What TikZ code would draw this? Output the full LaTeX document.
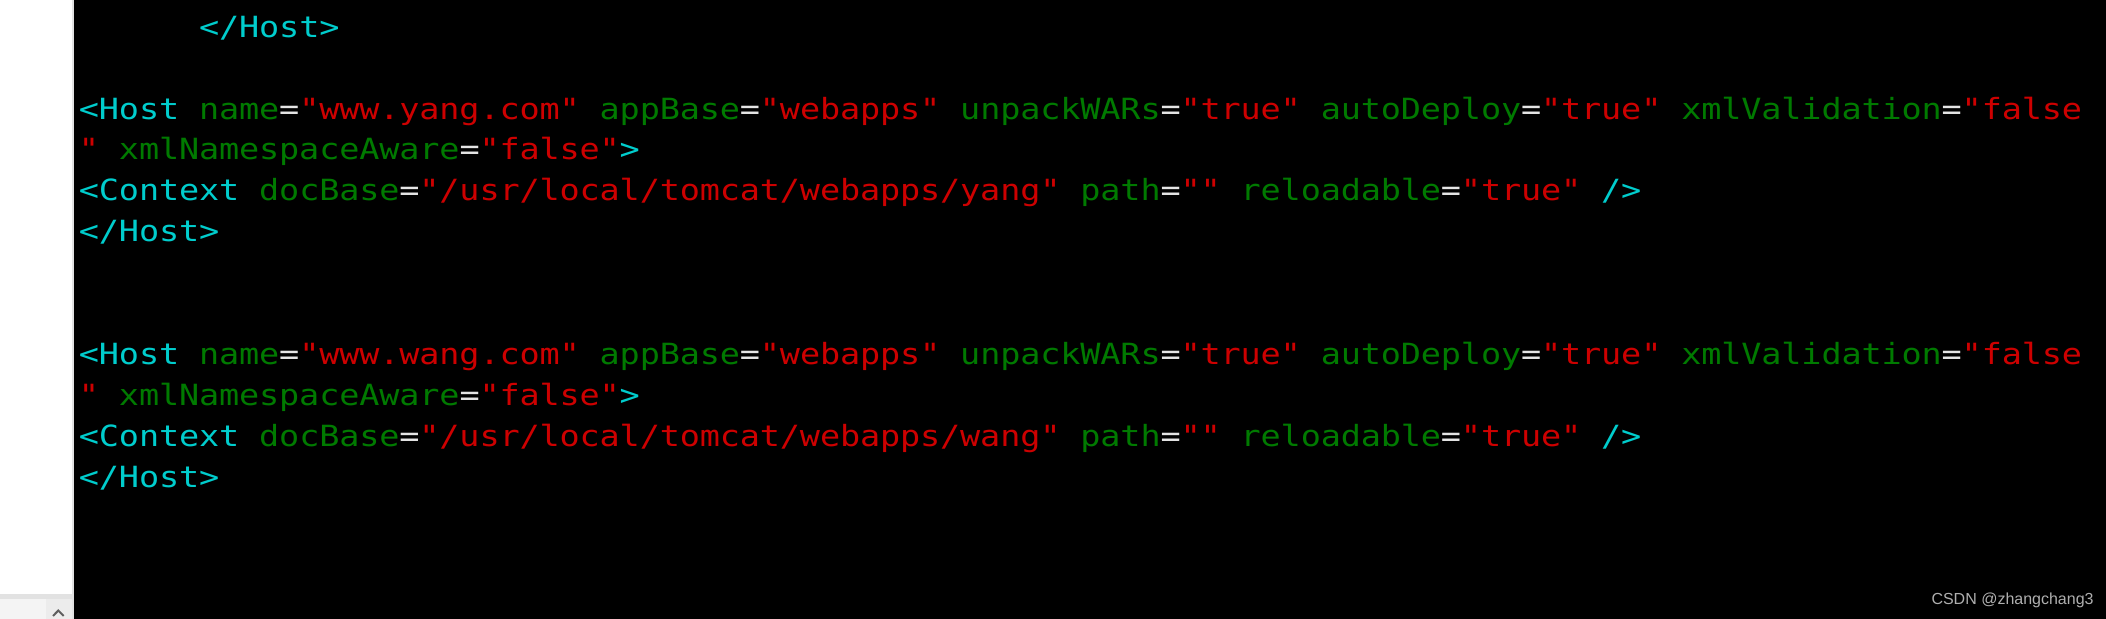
\documentclass[tikz,border=0pt]{standalone}
\usepackage{fontspec}
\setmonofont[FakeStretch=1.147]{DejaVu Sans Mono}
\setsansfont{Liberation Sans}
\usepackage{xcolor}
\usetikzlibrary{positioning}

\definecolor{tagc}{RGB}{0,205,205}
\definecolor{attc}{RGB}{0,122,0}
\definecolor{valc}{RGB}{205,0,0}
\definecolor{eqc}{RGB}{229,229,229}
\definecolor{wmgray}{RGB}{175,175,175}
\definecolor{edgegray}{RGB}{226,226,226}
\definecolor{barlight}{RGB}{244,244,244}
\definecolor{bardark}{RGB}{236,236,236}
\definecolor{chevgray}{RGB}{95,95,95}

% one character per terminal cell
\newlength{\cw}\setlength{\cw}{10.015pt}
\def\cells#1{\edef\celltmp{#1}\expandafter\cellloop\celltmp\relax}
\def\cellloop#1{\ifx#1\relax\else\makebox[\cw]{#1}\expandafter\cellloop\fi}
\newcommand{\sk}[1][1]{\makebox[#1\cw]{}}
\newcommand{\tg}[1]{\textcolor{tagc}{\cells{#1}}}
\newcommand{\at}[1]{\textcolor{attc}{\cells{#1}}}
\newcommand{\vl}[1]{\textcolor{valc}{\cells{#1}}}
\newcommand{\eq}{\textcolor{eqc}{\cells{=}}}

\begin{document}
\begin{tikzpicture}[x=0.5pt,y=0.5pt,
	code/.style={font=\ttfamily\fontsize{14.6}{18}\selectfont,inner sep=0pt,anchor=base west}]
	\useasboundingbox (0,0) rectangle (2106,619);
	% side panel
	\fill[white] (0,0) rectangle (71.7,619);
	\fill[barlight] (0,0) rectangle (46,20);
	\fill[bardark] (46,0) rectangle (71.7,20);
	\fill[edgegray] (0,20) rectangle (71.7,24.7);
	\fill[edgegray] (71.7,0) rectangle (74,619);
	\draw[chevgray,line width=1pt] (53,3) -- (58.3,8.5) -- (63.7,3);
	% terminal
	\fill[black] (74,0) rectangle (2106,619);
	\node[code] (close0) at (78.6,581.7) {\sk[6]\tg{</Host>}};
	\foreach \site/\row in {yang/2,wang/8}{
		\node[code] (host\row) at (78.6,{581.7-40.9*\row}) {\tg{<Host}\sk\at{name}\eq\vl{"www.\site.com"}\sk\at{appBase}\eq\vl{"webapps"}\sk\at{unpackWARs}\eq\vl{"true"}\sk\at{autoDeploy}\eq\vl{"true"}\sk\at{xmlValidation}\eq\vl{"false}};
		\node[code] (wrap\row) at (78.6,{581.7-40.9*(\row+1)}) {\vl{"}\sk\at{xmlNamespaceAware}\eq\vl{"false"}\tg{>}};
		\node[code] (ctx\row) at (78.6,{581.7-40.9*(\row+2)}) {\tg{<Context}\sk\at{docBase}\eq\vl{"/usr/local/tomcat/webapps/\site"}\sk\at{path}\eq\vl{""}\sk\at{reloadable}\eq\vl{"true"}\sk\tg{/>}};
		\node[code] (end\row) at (78.6,{581.7-40.9*(\row+3)}) {\tg{</Host>}};
	}
	\node[font=\sffamily\fontsize{8}{10}\selectfont,text=wmgray,inner sep=0pt,anchor=base east] (wm) at (2094,14) {CSDN @zhangchang3};
\end{tikzpicture}
\end{document}
